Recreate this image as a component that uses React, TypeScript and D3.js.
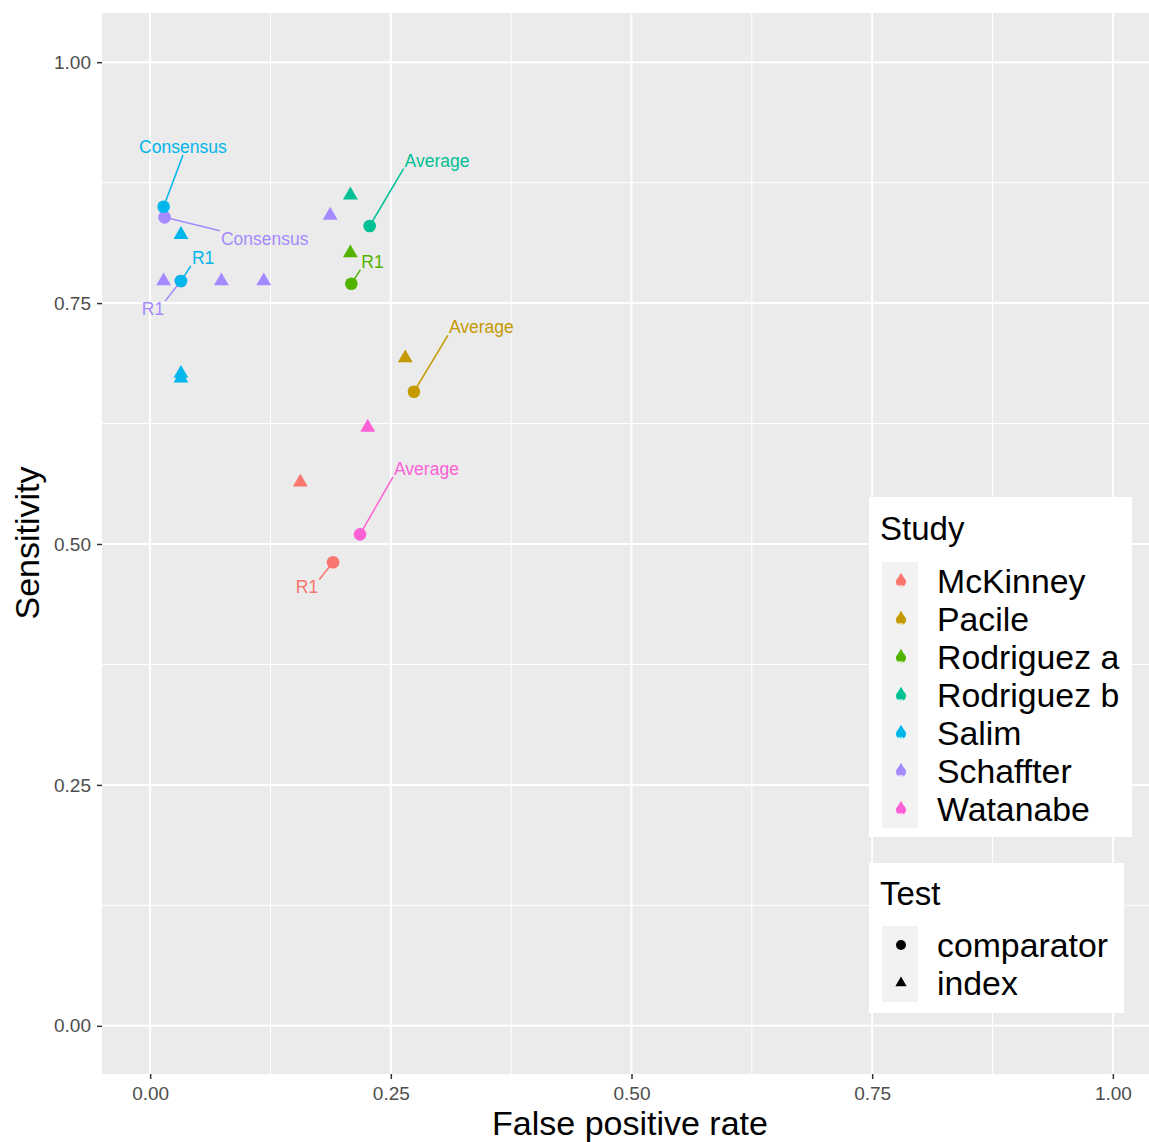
import React, { useRef, useEffect } from "react";
import * as d3 from "d3";

// study order + colours (ggplot default hue palette, 7 levels)
const studies = ["McKinney", "Pacile", "Rodriguez a", "Rodriguez b", "Salim", "Schaffter", "Watanabe"];
const studyColors = ["#F8766D", "#C49A00", "#53B400", "#00C094", "#00B6EB", "#A58AFF", "#FB61D7"];
const tests = ["comparator", "index"];

// one entry per point
const ptStudy = [
  "Schaffter", "Schaffter", "Schaffter", "Schaffter", "Schaffter", "Schaffter",
  "Salim", "Salim", "Salim", "Salim", "Salim",
  "Rodriguez b", "Rodriguez b",
  "Rodriguez a", "Rodriguez a",
  "Pacile", "Pacile",
  "Watanabe", "Watanabe",
  "McKinney", "McKinney",
];
const ptTest = [
  "comparator", "comparator", "index", "index", "index", "index",
  "comparator", "comparator", "index", "index", "index",
  "index", "comparator",
  "index", "comparator",
  "index", "comparator",
  "index", "comparator",
  "index", "comparator",
];
const ptFpr = [
  0.015, 0.032, 0.014, 0.074, 0.118, 0.187,
  0.014, 0.032, 0.032, 0.032, 0.032,
  0.208, 0.228,
  0.208, 0.209,
  0.265, 0.274,
  0.226, 0.218,
  0.156, 0.190,
];
const ptSens = [
  0.839, 0.773, 0.773, 0.773, 0.773, 0.841,
  0.850, 0.773, 0.821, 0.677, 0.672,
  0.862, 0.830,
  0.802, 0.770,
  0.693, 0.658,
  0.621, 0.510,
  0.564, 0.481,
];
const ptLabel = [
  "Consensus", "R1", "", "", "", "",
  "Consensus", "R1", "", "", "",
  "", "Average",
  "", "R1",
  "", "Average",
  "", "Average",
  "", "R1",
];
// where the repelled label ended up (centre of the text, data units)
const labelX = [
  0.119, 0.003, 0, 0, 0, 0,
  0.034, 0.055, 0, 0, 0,
  0, 0.298,
  0, 0.231,
  0, 0.344,
  0, 0.287,
  0, 0.163,
];
const labelY = [
  0.817, 0.744, 0, 0, 0, 0,
  0.912, 0.797, 0, 0, 0,
  0, 0.898,
  0, 0.793,
  0, 0.725,
  0, 0.578,
  0, 0.455,
];

const xTicks = [0, 0.25, 0.5, 0.75, 1];
const yTicks = [0, 0.25, 0.5, 0.75, 1];
const minorTicks = [0.125, 0.375, 0.625, 0.875];

const W = 1149;
const H = 1142;
const FONT = "Arial, 'Liberation Sans', sans-serif";

const App = () => {
  const ref = useRef(null);

  useEffect(() => {
    const svg = d3.select(ref.current);
    svg.selectAll("*").remove();

    const panel = { left: 102, top: 13, right: W, bottom: 1074 };
    const x = d3.scaleLinear([-0.05, 1.05], [102, 1161]);
    const y = d3.scaleLinear([-0.05, 1.05], [1074, 14]);
    const color = d3.scaleOrdinal(studies, studyColors);

    const tri = d3.symbol(d3.symbolTriangle, 95);

    svg.append("rect")
      .attr("x", panel.left).attr("y", panel.top)
      .attr("width", panel.right - panel.left).attr("height", panel.bottom - panel.top)
      .attr("fill", "#EBEBEB");

    // grid
    const grid = svg.append("g");
    minorTicks.forEach(t => {
      grid.append("line").attr("x1", x(t)).attr("x2", x(t)).attr("y1", panel.top).attr("y2", panel.bottom)
        .attr("stroke", "#fff").attr("stroke-width", 1);
      grid.append("line").attr("y1", y(t)).attr("y2", y(t)).attr("x1", panel.left).attr("x2", panel.right)
        .attr("stroke", "#fff").attr("stroke-width", 1);
    });
    xTicks.forEach(t => {
      grid.append("line").attr("x1", x(t)).attr("x2", x(t)).attr("y1", panel.top).attr("y2", panel.bottom)
        .attr("stroke", "#fff").attr("stroke-width", 2);
    });
    yTicks.forEach(t => {
      grid.append("line").attr("y1", y(t)).attr("y2", y(t)).attr("x1", panel.left).attr("x2", panel.right)
        .attr("stroke", "#fff").attr("stroke-width", 2);
    });

    // axes
    const xAxis = d3.axisBottom(x).tickValues(xTicks).tickFormat(d3.format(".2f")).tickSizeOuter(0).tickSize(5).tickPadding(8);
    svg.append("g")
      .attr("transform", `translate(0,${panel.bottom})`)
      .call(xAxis)
      .call(g => g.select(".domain").remove())
      .call(g => g.selectAll(".tick line").attr("stroke", "#333").attr("stroke-width", 1.5))
      .call(g => g.selectAll(".tick text").attr("fill", "#4D4D4D").attr("font-size", 19).attr("font-family", FONT));

    const yAxis = d3.axisLeft(y).tickValues(yTicks).tickFormat(d3.format(".2f")).tickSizeOuter(0).tickSize(5).tickPadding(6);
    svg.append("g")
      .attr("transform", `translate(${panel.left},0)`)
      .call(yAxis)
      .call(g => g.select(".domain").remove())
      .call(g => g.selectAll(".tick line").attr("stroke", "#333").attr("stroke-width", 1.5))
      .call(g => g.selectAll(".tick text").attr("fill", "#4D4D4D").attr("font-size", 19).attr("font-family", FONT));

    svg.append("text")
      .attr("x", 630).attr("y", 1135).attr("text-anchor", "middle")
      .attr("font-size", 34).attr("font-family", FONT).attr("fill", "#000")
      .text("False positive rate");
    svg.append("text")
      .attr("transform", "translate(39,543) rotate(-90)").attr("text-anchor", "middle")
      .attr("font-size", 34).attr("font-family", FONT).attr("fill", "#000")
      .text("Sensitivity");

    const idx = d3.range(ptStudy.length);
    const labelled = idx.filter(i => ptLabel[i] !== "");

    // labels + segments (ggrepel style: to the nearest of the box's corners / edge midpoints)
    const segG = svg.append("g");
    const txtG = svg.append("g");
    labelled.forEach(i => {
      const t = txtG.append("text")
        .attr("x", x(labelX[i])).attr("y", y(labelY[i])).attr("dy", "0.35em")
        .attr("text-anchor", "middle")
        .attr("font-size", 17.5).attr("font-family", FONT)
        .attr("fill", color(ptStudy[i]))
        .text(ptLabel[i]);
      const b = (t.node() as SVGTextElement).getBBox();
      const px = x(ptFpr[i]);
      const py = y(ptSens[i]);
      const xs = [b.x - 1, b.x + b.width / 2, b.x + b.width + 1];
      const ys = [b.y + 2, b.y + b.height / 2, b.y + b.height - 2];
      let best = [xs[0], ys[0]];
      let bestD = Infinity;
      xs.forEach(cx => ys.forEach(cy => {
        const d = Math.hypot(cx - px, cy - py);
        if (d < bestD) { bestD = d; best = [cx, cy]; }
      }));
      segG.append("line")
        .attr("x1", px).attr("y1", py).attr("x2", best[0]).attr("y2", best[1])
        .attr("stroke", color(ptStudy[i])).attr("stroke-width", 1.5);
    });

    // points
    const ptG = svg.append("g");
    idx.forEach(i => {
      const cx = x(ptFpr[i]);
      const cy = y(ptSens[i]);
      if (ptTest[i] === "comparator") {
        ptG.append("circle").attr("cx", cx).attr("cy", cy).attr("r", 6.3).attr("fill", color(ptStudy[i]));
      } else {
        ptG.append("path").attr("d", tri()).attr("transform", `translate(${cx},${cy})`).attr("fill", color(ptStudy[i]));
      }
    });

    // legends
    const keyW = 36;
    const rowH = 38;
    const study = svg.append("g");
    study.append("rect").attr("x", 869).attr("y", 497).attr("width", 263).attr("height", 340).attr("fill", "#fff");
    study.append("text").attr("x", 880).attr("y", 540).attr("font-size", 33).attr("font-family", FONT).text("Study");
    studies.forEach((s, k) => {
      const top = 562 + k * rowH;
      const cy = top + rowH / 2;
      study.append("rect").attr("x", 882).attr("y", top).attr("width", keyW).attr("height", rowH).attr("fill", "#F2F2F2");
      study.append("circle").attr("cx", 901).attr("cy", cy + 1).attr("r", 5).attr("fill", color(s));
      study.append("path").attr("d", d3.symbol(d3.symbolTriangle, 50)()).attr("transform", `translate(901,${cy - 2})`).attr("fill", color(s));
      study.append("rect").attr("x", 898).attr("y", cy + 4).attr("width", 5).attr("height", 2).attr("fill", "#fff").attr("opacity", 0.6);
      study.append("text").attr("x", 937).attr("y", cy + 12).attr("font-size", 33.8).attr("font-family", FONT).text(s);
    });

    const test = svg.append("g");
    test.append("rect").attr("x", 869).attr("y", 863).attr("width", 255).attr("height", 150).attr("fill", "#fff");
    test.append("text").attr("x", 880).attr("y", 905).attr("font-size", 33).attr("font-family", FONT).text("Test");
    tests.forEach((s, k) => {
      const top = 926 + k * rowH;
      const cy = top + rowH / 2;
      test.append("rect").attr("x", 882).attr("y", top).attr("width", keyW).attr("height", rowH).attr("fill", "#F2F2F2");
      if (s === "comparator") {
        test.append("circle").attr("cx", 901).attr("cy", cy).attr("r", 5).attr("fill", "#000");
      } else {
        test.append("path").attr("d", d3.symbol(d3.symbolTriangle, 55)()).attr("transform", `translate(901,${cy})`).attr("fill", "#000");
      }
      test.append("text").attr("x", 937).attr("y", cy + 12).attr("font-size", 33.8).attr("font-family", FONT).text(s);
    });
  }, []);

  return (
    <svg ref={ref} width={W} height={H} style={{ position: "absolute", left: 0, top: 0, background: "#fff" }}></svg>
  );
};

export default App;
